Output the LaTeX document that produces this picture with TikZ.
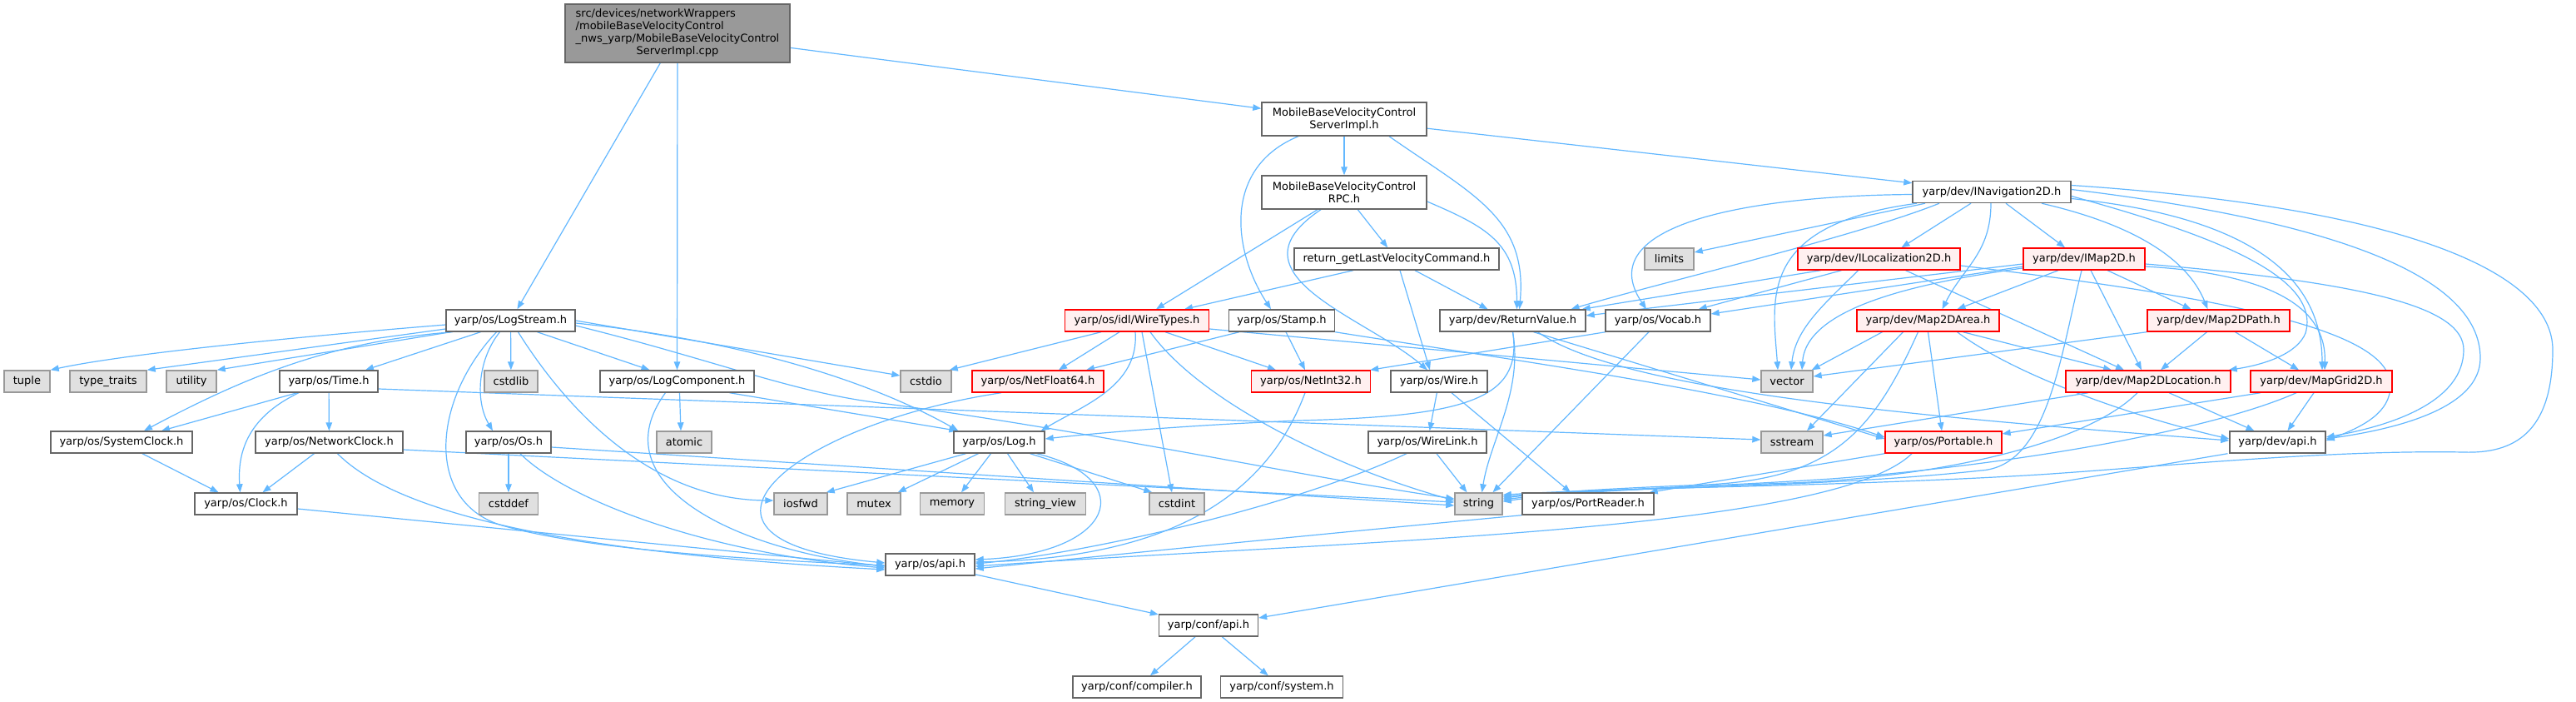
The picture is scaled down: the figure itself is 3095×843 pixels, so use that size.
\documentclass[tikz,border=0pt]{standalone}
\usepackage{fontspec}
\setmainfont{DejaVu Sans}
\usetikzlibrary{arrows.meta}
\definecolor{edgec}{HTML}{63B8FF}
\definecolor{bordn}{HTML}{666666}
\definecolor{borde}{HTML}{999999}
\definecolor{fille}{HTML}{E0E0E0}
\definecolor{fillt}{HTML}{FFF0F0}
\definecolor{fillr}{HTML}{999999}
\definecolor{redb}{HTML}{FF0000}
\pgfdeclarelayer{bg}
\pgfsetlayers{bg,main}
\tikzset{
 base/.style={draw, line width=1.4pt, minimum height=26pt, inner sep=0pt, font=\fontsize{13}{15}\selectfont, text=black},
 nrm/.style={base, draw=bordn, fill=white},
 ext/.style={base, draw=borde, fill=fille},
 trn/.style={base, draw=redb, fill=fillt},
 rootn/.style={base, draw=bordn, fill=fillr},
 bw/.style={minimum width=#1pt},
 e/.style={draw=edgec, line width=1.2pt, -{Triangle[length=10pt,width=7.5pt]}},
}
\begin{document}
\begin{tikzpicture}[x=1pt,y=-1pt]
\useasboundingbox (0,0) rectangle (3095,843);
% ---------- nodes ----------
\node[rootn, bw=270, minimum height=70pt] (root) at (814,40) {\begin{tabular}{@{}l@{}}src/devices/networkWrappers\\/mobileBaseVelocityControl\\\_nws\_yarp/MobileBaseVelocityControl\\\multicolumn{1}{@{}c@{}}{ServerImpl.cpp}\end{tabular}};
\node[nrm, bw=198, minimum height=40pt, align=center] (simpl) at (1615,143) {MobileBaseVelocityControl\\ServerImpl.h};
\node[nrm, bw=198, minimum height=40pt, align=center] (rpc) at (1615,231) {MobileBaseVelocityControl\\RPC.h};
\node[nrm, bw=190] (inav) at (2393,230.5) {yarp/dev/INavigation2D.h};
\node[nrm, bw=246] (retget) at (1678,311) {return\_getLastVelocityCommand.h};
\node[ext, bw=59] (limits) at (2005.5,311) {limits};
\node[trn, bw=195] (iloc) at (2257.5,311) {yarp/dev/ILocalization2D.h};
\node[trn, bw=146] (imap) at (2504,311) {yarp/dev/IMap2D.h};
\node[nrm, bw=155] (logstream) at (613.5,385) {yarp/os/LogStream.h};
\node[trn, bw=173] (wiretypes) at (1366,385) {yarp/os/idl/WireTypes.h};
\node[nrm, bw=127] (stamp) at (1540,385) {yarp/os/Stamp.h};
\node[nrm, bw=175] (retval) at (1817.5,385) {yarp/dev/ReturnValue.h};
\node[nrm, bw=126] (vocab) at (1992,385) {yarp/os/Vocab.h};
\node[trn, bw=171] (area) at (2316.5,385) {yarp/dev/Map2DArea.h};
\node[trn, bw=171] (path) at (2665.5,385) {yarp/dev/Map2DPath.h};
\node[ext, bw=55] (tuple) at (32.5,458) {tuple};
\node[ext, bw=92] (typetraits) at (130,458) {type\_traits};
\node[ext, bw=60] (utility) at (230,458) {utility};
\node[nrm, bw=118] (time) at (395,458) {yarp/os/Time.h};
\node[ext, bw=64] (cstdlib) at (614,458) {cstdlib};
\node[nrm, bw=185] (logcomp) at (813.5,458) {yarp/os/LogComponent.h};
\node[ext, bw=61] (cstdio) at (1112.5,458) {cstdio};
\node[trn, bw=158] (netf64) at (1247,458) {yarp/os/NetFloat64.h};
\node[trn, bw=143] (neti32) at (1575,458) {yarp/os/NetInt32.h};
\node[nrm, bw=116] (wire) at (1729,458) {yarp/os/Wire.h};
\node[ext, bw=62] (vector) at (2147,458) {vector};
\node[trn, bw=198] (location) at (2581,458) {yarp/dev/Map2DLocation.h};
\node[trn, bw=170] (grid) at (2789,458) {yarp/dev/MapGrid2D.h};
\node[nrm, bw=170] (sysclock) at (146,531) {yarp/os/SystemClock.h};
\node[nrm, bw=177] (netclock) at (395.5,531) {yarp/os/NetworkClock.h};
\node[nrm, bw=102] (os) at (611,531) {yarp/os/Os.h};
\node[ext, bw=66] (atomic) at (822,531) {atomic};
\node[nrm, bw=109] (log) at (1200.5,531) {yarp/os/Log.h};
\node[nrm, bw=142] (wirelink) at (1715,531) {yarp/os/WireLink.h};
\node[ext, bw=74] (sstream) at (2153,531) {sstream};
\node[trn, bw=140] (portable) at (2335,531) {yarp/os/Portable.h};
\node[nrm, bw=115] (devapi) at (2736.5,531) {yarp/dev/api.h};
\node[nrm, bw=123] (clock) at (295.5,605) {yarp/os/Clock.h};
\node[ext, bw=71] (cstddef) at (611,605) {cstddef};
\node[ext, bw=64] (iosfwd) at (962,605) {iosfwd};
\node[ext, bw=64] (mutex) at (1050,605) {mutex};
\node[ext, bw=77] (memory) at (1144,605) {memory};
\node[ext, bw=97] (stringview) at (1256,605) {string\_view};
\node[ext, bw=66] (cstdint) at (1414,605) {cstdint};
\node[ext, bw=57] (string) at (1776.5,605) {string};
\node[nrm, bw=158] (portreader) at (1908,605) {yarp/os/PortReader.h};
\node[nrm, bw=107] (osapi) at (1117.5,678) {yarp/os/api.h};
\node[nrm, bw=119] (confapi) at (1452,751) {yarp/conf/api.h};
\node[nrm, bw=154] (compiler) at (1366,825) {yarp/conf/compiler.h};
\node[nrm, bw=147] (system) at (1540,825) {yarp/conf/system.h};
% ---------- edges ----------
\begin{pgfonlayer}{bg}
\fill[white] (0,0) rectangle (3095,843);
% root
\draw[e] (root) -- (simpl);
\draw[e] (root) -- (logcomp);
\draw[e] (root) -- (logstream);
% simpl
\draw[e] (simpl) -- (rpc);
\draw[e] (simpl) -- (inav);
\draw[e] ([xshift=54pt]simpl.south) .. controls +(100,70) and +(10,-110) .. ([xshift=8pt]retval.north);
\draw[e] ([xshift=-55pt]simpl.south) .. controls +(-90,37) and +(-47,-72) .. ([xshift=-13pt]stamp.north);
% rpc
\draw[e] (rpc) -- (retget);
\draw[e] ([xshift=-32pt]rpc.south) -- ([xshift=23pt]wiretypes.north);
\draw[e] ([xshift=-28pt]rpc.south) .. controls (1470,330) and (1640,380) .. ([xshift=-14pt]wire.north);
\draw[e] ([yshift=-11pt]rpc.east) .. controls +(70,30) and +(0,-80) .. ([xshift=5pt]retval.north);
% retget
\draw[e] ([xshift=-52pt]retget.south) -- ([xshift=57pt]wiretypes.north);
\draw[e] ([xshift=4pt]retget.south) -- ([xshift=-11pt]wire.north);
\draw[e] ([xshift=22pt]retget.south) -- ([xshift=-30pt]retval.north);
% inav
\draw[e] ([xshift=-80pt]inav.south) -- ([yshift=8pt]limits.east);
\draw[e] ([xshift=-25pt]inav.south) -- ([xshift=27pt]iloc.north);
\draw[e] ([xshift=17pt]inav.south) -- ([xshift=-23pt]imap.north);
\draw[e] ([xshift=-1pt]inav.south) .. controls +(0,60) and +(25,-50) .. ([xshift=17pt]area.north);
\draw[e] ([xshift=60pt]inav.south) .. controls +(130,30) and +(-20,-50) .. ([xshift=-13pt]path.north);
\draw[e] ([yshift=-3pt]inav.west) .. controls (2100,235) and (1910,270) .. ([xshift=-14pt]vocab.north);
\draw[e] ([xshift=-63pt]inav.south) .. controls +(-100,40) and +(100,-30) .. ([xshift=70pt]retval.north);
\draw[e] ([xshift=-90pt]inav.south) .. controls (2110,270) and (2130,360) .. ([xshift=-11pt]vector.north);
\draw[e] ([yshift=-5pt]inav.east) .. controls (2650,280) and (2790,330) .. (2770,400) .. controls (2760,425) and (2720,438) .. ([xshift=-3pt]location.north east);
\draw[e] ([yshift=-8pt]inav.east) .. controls (2700,260) and (2790,330) .. ([xshift=1pt]grid.north);
\draw[e] ([yshift=3pt]inav.east) .. controls (2800,265) and (2980,330) .. (2980,430) .. controls (2980,490) and (2880,515) .. ([yshift=4pt]devapi.east);
\draw[e] ([yshift=8pt]inav.east) .. controls (2900,250) and (3067,330) .. (3067,420) .. controls (3067,520) and (3020,545) .. (2960,543) .. controls (2800,540) and (2600,560) .. (2450,570) .. controls (2200,585) and (1950,585) .. ([yshift=-3pt]string.north east);
% iloc
\draw[e] ([xshift=-70pt]iloc.south) -- ([xshift=-5pt]retval.north east);
\draw[e] ([xshift=-45pt]iloc.south) -- ([xshift=-15pt]vocab.north east);
\draw[e] ([xshift=-25pt]iloc.south) .. controls +(-40,40) and +(5,-50) .. ([xshift=5pt]vector.north);
\draw[e] ([xshift=32pt]iloc.south) -- ([xshift=-29pt]location.north);
\draw[e] ([yshift=-8pt]iloc.east) .. controls (2700,360) and (2872,400) .. (2872,463) .. controls (2872,495) and (2840,512) .. ([yshift=2pt]devapi.east);
% imap
\draw[e] ([yshift=-6pt]imap.east) .. controls (2850,340) and (2960,370) .. (2960,420) .. controls (2960,480) and (2880,510) .. ([yshift=6pt]devapi.east);
\draw[e] ([xshift=-31pt]imap.south) -- ([xshift=35pt]area.north);
\draw[e] ([xshift=28pt]imap.south) -- ([xshift=-33pt]path.north);
\draw[e] ([xshift=8pt]imap.south) -- ([xshift=-8pt]location.north);
\draw[e] ([yshift=-9pt]imap.east) .. controls (2750,330) and (2795,380) .. ([xshift=4pt]grid.north);
\draw[e] ([yshift=-6pt]imap.west) -- ([yshift=6pt]retval.east);
\draw[e] ([yshift=-9pt]imap.west) -- ([yshift=8pt]vocab.east);
\draw[e] ([yshift=-11pt]imap.west) .. controls (2300,340) and (2170,370) .. ([xshift=18pt]vector.north);
\draw[e] ([xshift=-3pt]imap.south) .. controls (2475,430) and (2460,560) .. (2380,565) .. controls (2200,585) and (1950,585) .. ([yshift=-5pt]string.north east);
% area
\draw[e] ([xshift=42pt]area.south) -- ([xshift=-44pt]location.north);
\draw[e] (area.south) -- ([xshift=-2pt]portable.north);
\draw[e] ([xshift=-30pt]area.south) -- ([xshift=18pt]sstream.north);
\draw[e] ([xshift=-55pt]area.south) -- ([xshift=-2pt]vector.north east);
\draw[e] ([xshift=-12pt]area.south) .. controls (2250,520) and (2200,575) .. (2050,582) .. controls (1950,586) and (1870,590) .. ([yshift=-7pt]string.north east);
\draw[e] ([xshift=35pt]area.south) .. controls (2420,450) and (2560,500) .. ([yshift=4pt]devapi.west);
% path
\draw[e] ([xshift=-14pt]path.south) -- ([xshift=15pt]location.north);
\draw[e] ([xshift=20pt]path.south) -- ([xshift=-27pt]grid.north);
\draw[e] (path.south west) -- ([yshift=6pt]vector.east);
% location
\draw[e] ([xshift=-72pt]location.south) -- ([yshift=8pt]sstream.east);
\draw[e] ([xshift=25pt]location.south) -- ([xshift=-28pt]devapi.north);
\draw[e] ([xshift=-13pt]location.south) .. controls (2500,540) and (2300,575) .. (2150,580) .. controls (2000,585) and (1880,590) .. ([yshift=-9pt]string.north east);
% grid
\draw[e] ([xshift=-73pt]grid.south) -- ([yshift=10pt]portable.east);
\draw[e] ([xshift=-9pt]grid.south) -- ([xshift=12pt]devapi.north);
\draw[e] ([xshift=-30pt]grid.south) .. controls (2650,520) and (2400,560) .. (2200,575) .. controls (2050,585) and (1900,588) .. ([yshift=-11pt]string.north east);
% devapi
\draw[e] ([xshift=-60pt]devapi.south) -- ([yshift=9pt]confapi.east);
% retval
\draw[e] (retval.south) .. controls (1830,480) and (1760,500) .. (1560,505) .. controls (1400,512) and (1300,522) .. ([yshift=4pt]log.east);
\draw[e] (retval.south) .. controls (1830,470) and (1790,530) .. ([xshift=4pt]string.north);
\draw[e] ([xshift=25pt]retval.south) -- ([yshift=4pt]portable.west);
\draw[e] ([xshift=30pt]retval.south) .. controls (1950,470) and (2300,500) .. ([yshift=2pt]devapi.west);
% vocab
\draw[e] ([xshift=-63pt]vocab.south) -- ([xshift=-1pt]neti32.north east);
\draw[e] ([xshift=-11pt]vocab.south) -- ([xshift=17pt]string.north);
% stamp
\draw[e] ([xshift=-51pt]stamp.south) -- ([xshift=58pt]netf64.north);
\draw[e] ([xshift=5pt]stamp.south) -- ([xshift=-7pt]neti32.north);
\draw[e] (stamp.south east) .. controls (1800,430) and (2100,470) .. ([yshift=6pt]portable.west);
% wiretypes
\draw[e] ([xshift=-43pt]wiretypes.south) -- ([xshift=-3pt]cstdio.north east);
\draw[e] ([xshift=-21pt]wiretypes.south) -- ([xshift=25pt]netf64.north);
\draw[e] ([xshift=-2pt]wiretypes.south) .. controls +(5,65) and +(50,-30) .. ([xshift=-5pt]log.north east);
\draw[e] ([xshift=6pt]wiretypes.south) -- ([xshift=-6pt]cstdint.north);
\draw[e] ([xshift=34pt]wiretypes.south) -- ([xshift=-42pt]neti32.north);
\draw[e] ([xshift=16pt]wiretypes.south) .. controls (1440,480) and (1600,560) .. ([yshift=4pt]string.west);
\draw[e] ([yshift=-10pt]wiretypes.east) -- ([yshift=2pt]vector.west);
% netf64, neti32
\draw[e] ([xshift=-44pt]netf64.south) .. controls (950,510) and (780,650) .. ([yshift=2pt]osapi.west);
\draw[e] ([xshift=-7pt]neti32.south) .. controls (1520,600) and (1400,670) .. ([yshift=3pt]osapi.east);
% wire, wirelink
\draw[e] (wire) -- (wirelink);
\draw[e] ([xshift=15pt]wire.south) -- ([xshift=-21pt]portreader.north);
\draw[e] ([xshift=11pt]wirelink.south) -- ([xshift=-14pt]string.north);
\draw[e] ([xshift=-25pt]wirelink.south) .. controls (1550,610) and (1300,665) .. ([yshift=1pt]osapi.east);
% portable, portreader
\draw[e] (portable.south west) -- ([xshift=-6pt]portreader.north east);
\draw[e] ([xshift=-38pt]portable.south) .. controls (2200,640) and (1600,650) .. ([yshift=-2pt]osapi.east);
\draw[e] (portreader.south west) .. controls (1600,640) and (1300,670) .. ([yshift=-5pt]osapi.east);
% log
\draw[e] ([xshift=-40pt]log.south) -- ([xshift=-2pt]iosfwd.north east);
\draw[e] ([xshift=-25pt]log.south) -- ([xshift=-4pt]mutex.north east);
\draw[e] ([xshift=-10pt]log.south) -- ([xshift=11pt]memory.north);
\draw[e] ([xshift=10pt]log.south) -- ([xshift=-14pt]stringview.north);
\draw[e] ([xshift=37pt]log.south) -- ([xshift=4pt]cstdint.north west);
\draw[e] ([xshift=45pt]log.south) .. controls (1370,575) and (1340,665) .. ([yshift=6pt]osapi.east);
% logcomp
\draw[e] ([xshift=3pt]logcomp.south) -- ([xshift=-4pt]atomic.north);
\draw[e] ([xshift=63pt]logcomp.south) -- ([xshift=5pt]log.north west);
\draw[e] ([xshift=-14pt]logcomp.south) .. controls (720,580) and (880,660) .. ([yshift=-2pt]osapi.west);
% os
\draw[e] (os) -- (cstddef);
\draw[e] ([xshift=14pt]os.south) .. controls (680,600) and (850,665) .. ([yshift=-4pt]osapi.west);
\draw[e] ([yshift=-6pt]os.east) -- ([yshift=-2pt]string.west);
% netclock
\draw[e] ([xshift=-18pt]netclock.south) -- ([xshift=20pt]clock.north);
\draw[e] ([xshift=10pt]netclock.south) .. controls (480,620) and (700,665) .. ([yshift=-6pt]osapi.west);
\draw[e] ([yshift=-9pt]netclock.east) -- ([yshift=2pt]string.west);
% time
\draw[e] ([xshift=-38pt]time.south) -- ([xshift=48pt]sysclock.north);
\draw[e] ([xshift=-36pt]time.south) .. controls (300,500) and (285,540) .. ([xshift=-7pt]clock.north);
\draw[e] (time) -- (netclock);
\draw[e] ([yshift=-9pt]time.east) -- ([yshift=3pt]sstream.west);
% sysclock, clock
\draw[e] ([xshift=25pt]sysclock.south) -- ([xshift=-33pt]clock.north);
\draw[e] ([yshift=-6pt]clock.east) -- ([yshift=-2pt]osapi.west);
% logstream
\draw[e] ([yshift=-5pt]logstream.west) .. controls (350,405) and (150,425) .. (tuple.north east);
\draw[e] ([yshift=-10pt]logstream.west) -- (typetraits.north east);
\draw[e] ([xshift=-72pt]logstream.south) -- (utility.north east);
\draw[e] ([xshift=-70pt]logstream.south) .. controls (400,410) and (300,450) .. ([xshift=27pt]sysclock.north);
\draw[e] ([xshift=-36pt]logstream.south) -- ([xshift=44pt]time.north);
\draw[e] ([xshift=-13pt]logstream.south) .. controls (575,430) and (570,480) .. ([xshift=-19pt]os.north);
\draw[e] ([xshift=-17pt]logstream.south) .. controls (520,480) and (510,600) .. (600,630) .. controls (700,660) and (900,672) .. ([yshift=-1pt]osapi.west);
\draw[e] (logstream) -- (cstdlib);
\draw[e] ([xshift=9pt]logstream.south) .. controls (680,490) and (780,600) .. ([yshift=4pt]iosfwd.west);
\draw[e] ([xshift=32pt]logstream.south) -- ([xshift=-33pt]logcomp.north);
\draw[e] (logstream.east) -- ([yshift=7pt]cstdio.west);
\draw[e] ([yshift=-3pt]logstream.east) .. controls (900,410) and (1050,460) .. ([xshift=6pt]log.north west);
\draw[e] ([yshift=-6pt]logstream.east) .. controls (850,430) and (950,470) .. (1050,483) .. controls (1300,515) and (1550,570) .. ([yshift=6pt]string.west);
% api chain
\draw[e] (osapi) -- (confapi);
\draw[e] (confapi) -- (compiler);
\draw[e] (confapi) -- (system);
\end{pgfonlayer}
\end{tikzpicture}
\end{document}
